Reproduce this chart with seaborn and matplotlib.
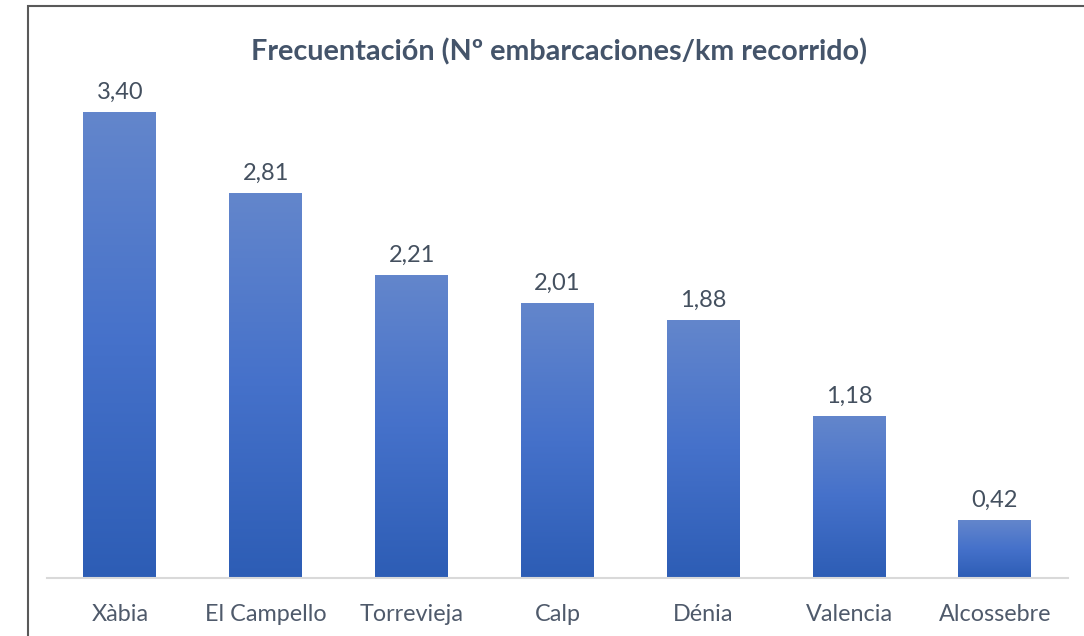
import numpy as np
import pandas as pd
import matplotlib
matplotlib.use("Agg")
import matplotlib.pyplot as plt
from matplotlib.colors import LinearSegmentedColormap
from matplotlib.patches import Rectangle
import seaborn as sns

# data
lugares = ["Xàbia", "El Campello", "Torrevieja", "Calp", "Dénia", "Valencia", "Alcossebre"]
frecuentacion = [3.40, 2.81, 2.21, 2.01, 1.88, 1.18, 0.42]

df = pd.DataFrame({"lugar": lugares, "valor": frecuentacion})

sns.set_theme(style="white")
plt.rcParams["font.family"] = ["Lato", "DejaVu Sans"]

fig = plt.figure(figsize=(10.84, 6.36), dpi=100)
ax = fig.add_axes([0.0434, 0.0912, 0.9416, 0.8173])

sns.barplot(data=df, x="lugar", y="valor", color="#4472C4", width=0.5, ax=ax, saturation=1)

# vertical gradient on each bar
grad = LinearSegmentedColormap.from_list("g", ["#2D5DB5", "#4571CA", "#6386CC"])
img = np.linspace(0, 1, 256).reshape(-1, 1)
for p in ax.patches:
    x0, y0 = p.get_x(), p.get_y()
    w, h = p.get_width(), p.get_height()
    p.set_facecolor("none")
    p.set_edgecolor("none")
    ax.imshow(img, cmap=grad, origin="lower", aspect="auto",
              extent=[x0, x0 + w, y0, y0 + h], zorder=2)

ax.set_xlim(-0.5, len(lugares) - 0.5)
ax.set_ylim(0, 3.8)

for i, v in enumerate(frecuentacion):
    ax.text(i, v + 0.07, f"{v:.2f}".replace(".", ","), ha="center", va="bottom",
            fontsize=17, color="#44505F")

fig.text(0.5157, 1 - 52 / 636, "Frecuentación (Nº embarcaciones/km recorrido)",
         ha="center", va="center", fontsize=20.7, fontweight="bold", color="#44546A")
ax.set_xlabel("")
ax.set_ylabel("")
ax.set_yticks([])
ax.tick_params(axis="x", labelsize=16.8, labelcolor="#4F5A6B", length=0, pad=19)
for s in ["top", "left", "right"]:
    ax.spines[s].set_visible(False)
ax.spines["bottom"].set_color("#D9D9D9")
ax.spines["bottom"].set_linewidth(1.5)

# outer frame of the chart area (cropped at right and bottom)
fig.patches.append(Rectangle((28 / 1084, -0.1), 1.2, 1 - 6 / 636 + 0.1,
                             transform=fig.transFigure, fill=False,
                             edgecolor="#595959", linewidth=1.5))

fig.savefig("out.png", dpi=100)
